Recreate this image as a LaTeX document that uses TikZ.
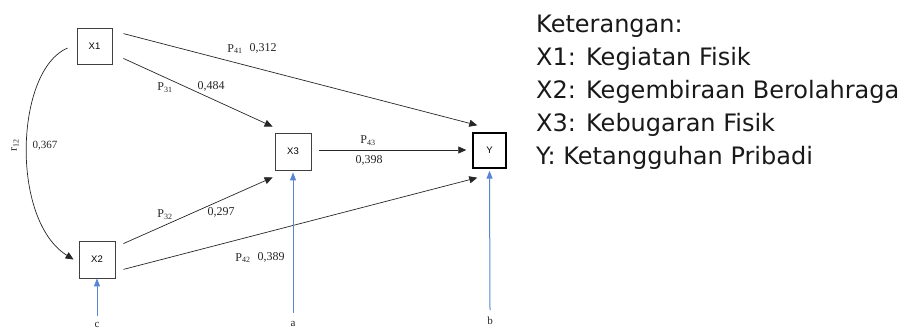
\documentclass[tikz,border=0pt]{standalone}
\usepackage{fontspec}
\setmainfont{Liberation Serif}
\newfontfamily\boxfont{Liberation Sans}
\newfontfamily\legfont{DejaVu Sans}
\usetikzlibrary{arrows.meta}
\definecolor{arrblue}{RGB}{88,132,212}
\tikzset{
  varbox/.style={draw=black!75, line width=0.8pt, minimum width=35pt, minimum height=36pt, inner sep=0pt, font=\boxfont\fontsize{9.5}{9.5}\selectfont},
  path/.style={draw=black!85, line width=0.7pt, -{Triangle[length=8pt,width=7pt]}},
  errarrow/.style={draw=arrblue, line width=1pt, -{Triangle[length=8pt,width=6pt]}},
  coef/.style={font=\fontsize{12}{12}\selectfont, inner sep=0pt, text=black!85},
  errlbl/.style={font=\fontsize{11}{11}\selectfont, inner sep=0pt, text=black!85},
  legend/.style={font=\legfont\fontsize{24}{24}\selectfont, anchor=base west, inner sep=0pt, text=black!90}
}
\begin{document}
\begin{tikzpicture}[x=1pt,y=-1pt]
\useasboundingbox (0,0) rectangle (904,330);
% boxes
\node[varbox] (X1) at (94.5,46) {X1};
\node[varbox, minimum width=36pt, minimum height=37pt] (X3) at (293,151.5) {X3};
\node[varbox, minimum width=36pt, minimum height=37pt] (X2) at (97,259.5) {X2};
\node[varbox, line width=1.4pt, draw=black, minimum width=33pt, minimum height=35pt] (Y) at (489.5,150.5) {Y};
% path arrows
\draw[path] ([shift={(11,6)}]X1.north east) -- ([shift={(5,-7)}]Y.north west);
\draw[path] ([shift={(11,-6)}]X1.south east) -- ([shift={(-2,-6)}]X3.north west);
\draw[path] ([shift={(8,-1.5)}]X3.east) -- ([shift={(-6,-0.5)}]Y.west);
\draw[path] ([shift={(8,3)}]X2.north east) -- ([shift={(-2,7)}]X3.south west);
\draw[path] ([shift={(8,-9)}]X2.south east) -- ([shift={(5,9)}]Y.south west);
% correlation curve
\draw[path] ([xshift=-9pt,yshift=-2pt]X1.west) .. controls (15,70) and (10,220) .. ([xshift=-5pt]X2.west);
% coefficient labels
\node[coef] (p41) at (235,49) {P\textsubscript{41}};
\node[coef] (v41) at (263,48) {0,312};
\node[coef] (p31) at (165,88) {P\textsubscript{31}};
\node[coef] (v31) at (211,86) {0,484};
\node[coef] (p43) at (368,141) {P\textsubscript{43}};
\node[coef] (v43) at (369,160) {0,398};
\node[coef] (p32) at (165,215) {P\textsubscript{32}};
\node[coef] (v32) at (221,212) {0,297};
\node[coef] (p42) at (243,258) {P\textsubscript{42}};
\node[coef] (v42) at (271,257) {0,389};
\node[coef, rotate=90] (r12) at (15,145) {r\textsubscript{12}};
\node[coef, font=\fontsize{11}{11}\selectfont] (v12) at (45,146) {0,367};
% error terms
\node[errlbl] (c) at (97,325) {c};
\node[errlbl] (a) at (293,324) {a};
\node[errlbl] (b) at (490,321) {b};
\draw[errarrow] ([yshift=9pt]c.center) -- (X2.south);
\draw[errarrow] ([yshift=11pt]a.center) -- ([yshift=-2pt]X3.south);
\draw[errarrow] ([yshift=11pt]b.center) -- ([yshift=-2pt]Y.south);
% legend
\node[legend] (k0) at (536,32) {Keterangan:};
\node[legend] (k1) at (536,65) {X1: Kegiatan Fisik};
\node[legend] (k2) at (536,98) {X2: Kegembiraan Berolahraga};
\node[legend] (k3) at (536,131) {X3: Kebugaran Fisik};
\node[legend] (k4) at (536,164) {Y: Ketangguhan Pribadi};
\end{tikzpicture}
\end{document}
